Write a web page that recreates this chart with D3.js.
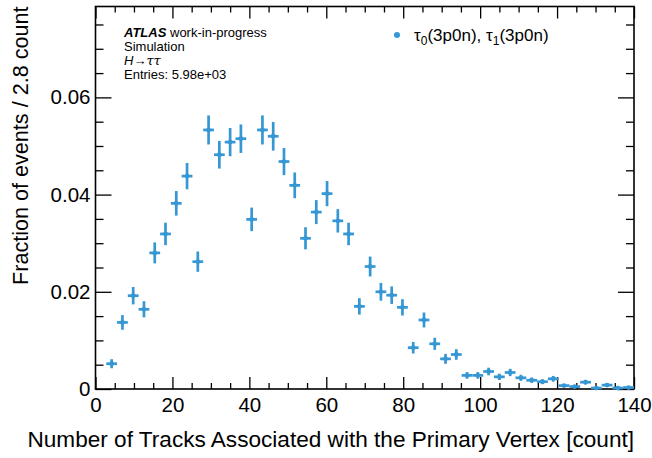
<!DOCTYPE html>
<html>
<head>
<meta charset="utf-8">
<script src="https://cdn.jsdelivr.net/npm/d3@7/dist/d3.min.js"></script>
<style>
  body { margin: 0; background: #fff; }
  svg { display: block; font-family: "Liberation Sans", Arial, sans-serif; }
</style>
</head>
<body>
<div id="chart"></div>
<script>
// bin centres (bin width 2.8 tracks)
const binCenters = [1.4, 4.2, 7.0, 9.8, 12.6, 15.4, 18.2, 21.0, 23.8, 26.6,
  29.4, 32.2, 35.0, 37.8, 40.6, 43.4, 46.2, 49.0, 51.8, 54.6,
  57.4, 60.2, 63.0, 65.8, 68.6, 71.4, 74.2, 77.0, 79.8, 82.6,
  85.4, 88.2, 91.0, 93.8, 96.6, 99.4, 102.2, 105.0, 107.8, 110.6,
  113.4, 116.2, 119.0, 121.8, 124.6, 127.4, 130.2, 133.0, 135.8, 138.6];
const binHalfWidth = 1.4;

// fraction of events per bin
const fractions = [null, 0.0052, 0.0137, 0.0192, 0.0164, 0.0280, 0.0319, 0.0382, 0.0438, 0.0262,
  0.0533, 0.0482, 0.0508, 0.0515, 0.0349, 0.0533, 0.0520, 0.0468, 0.0419, 0.0310,
  0.0364, 0.0402, 0.0346, 0.0319, 0.0170, 0.0252, 0.0200, 0.0193, 0.0168, 0.0085,
  0.0142, 0.0093, 0.0062, 0.0071, 0.0028, 0.0028, 0.0036, 0.0025, 0.0034, 0.0023,
  0.0018, 0.0015, 0.0021, 0.0007, 0.0005, 0.0014, 0.0002, 0.0008, 0.0002, 0.0003];

// vertical error per bin
const errors = [0, 0.00093, 0.00151, 0.00179, 0.00166, 0.00216, 0.00231, 0.00253, 0.00271, 0.00209,
  0.00299, 0.00284, 0.00291, 0.00293, 0.00242, 0.00299, 0.00295, 0.00280, 0.00265, 0.00228,
  0.00247, 0.00259, 0.00241, 0.00231, 0.00169, 0.00205, 0.00183, 0.00180, 0.00168, 0.00119,
  0.00154, 0.00125, 0.00102, 0.00109, 0.00068, 0.00068, 0.00078, 0.00065, 0.00075, 0.00062,
  0.00055, 0.00050, 0.00059, 0.00034, 0.00029, 0.00048, 0.00017, 0.00037, 0.00017, 0.00022];

const xTicks = [0, 20, 40, 60, 80, 100, 120, 140];
const xTickLabels = ["0", "20", "40", "60", "80", "100", "120", "140"];
const yTicks = [0, 0.02, 0.04, 0.06];
const yTickLabels = ["0", "0.02", "0.04", "0.06"];

const color = "#3597d3";
const W = 652, H = 458;
const plotL = 95.5, plotR = 634, plotT = 6.5, plotB = 389;

const svg = d3.select("#chart").append("svg")
  .attr("width", W).attr("height", H);

const x = d3.scaleLinear().domain([0, 140]).range([plotL, plotR]);
const y = d3.scaleLinear().domain([0, 0.0787]).range([plotB, plotT]);

const xMinor = d3.range(0, 141, 5).filter(v => v % 20 !== 0);
const yMinor = d3.range(0.005, 0.078, 0.005).filter(v => Math.abs(v / 0.02 - Math.round(v / 0.02)) > 1e-6);

// helper to strip axis domain and style ticks
function styleAxis(g) {
  g.select(".domain").remove();
  g.selectAll(".tick line").attr("stroke", "#000").attr("stroke-width", 1.3);
  g.selectAll("text").attr("fill", "#000").attr("font-size", "20.5px")
    .attr("font-family", "Liberation Sans, Arial, sans-serif");
}

// bottom axis (major with labels, minor)
svg.append("g").attr("transform", `translate(0,${plotB})`)
  .call(d3.axisBottom(x).tickValues(xTicks).tickFormat((d, i) => xTickLabels[i]).tickSize(-12).tickPadding(8))
  .call(styleAxis);
svg.append("g").attr("transform", `translate(0,${plotB})`)
  .call(d3.axisBottom(x).tickValues(xMinor).tickFormat("").tickSize(-6))
  .call(styleAxis);
// top axis
svg.append("g").attr("transform", `translate(0,${plotT})`)
  .call(d3.axisTop(x).tickValues(xTicks).tickFormat("").tickSize(-12))
  .call(styleAxis);
svg.append("g").attr("transform", `translate(0,${plotT})`)
  .call(d3.axisTop(x).tickValues(xMinor).tickFormat("").tickSize(-6))
  .call(styleAxis);
// left axis
svg.append("g").attr("transform", `translate(${plotL},0)`)
  .call(d3.axisLeft(y).tickValues(yTicks).tickFormat((d, i) => yTickLabels[i]).tickSize(-16).tickPadding(5))
  .call(styleAxis);
svg.append("g").attr("transform", `translate(${plotL},0)`)
  .call(d3.axisLeft(y).tickValues(yMinor).tickFormat("").tickSize(-8))
  .call(styleAxis);
// right axis
svg.append("g").attr("transform", `translate(${plotR},0)`)
  .call(d3.axisRight(y).tickValues(yTicks).tickFormat("").tickSize(-16))
  .call(styleAxis);
svg.append("g").attr("transform", `translate(${plotR},0)`)
  .call(d3.axisRight(y).tickValues(yMinor).tickFormat("").tickSize(-8))
  .call(styleAxis);

// frame
svg.append("rect")
  .attr("x", plotL).attr("y", plotT)
  .attr("width", plotR - plotL).attr("height", plotB - plotT)
  .attr("fill", "none").attr("stroke", "#000").attr("stroke-width", 1.6);

// data points with error bars
const pts = binCenters.map((c, i) => ({ c: c, v: fractions[i], e: errors[i] }))
  .filter(d => d.v !== null);

const pg = svg.append("g");
pg.selectAll(".ex").data(pts).enter().append("line")
  .attr("x1", d => x(d.c - binHalfWidth)).attr("x2", d => x(d.c + binHalfWidth))
  .attr("y1", d => y(d.v)).attr("y2", d => y(d.v))
  .attr("stroke", color).attr("stroke-width", 2.7);
pg.selectAll(".ey").data(pts).enter().append("line")
  .attr("x1", d => x(d.c)).attr("x2", d => x(d.c))
  .attr("y1", d => y(d.v - d.e)).attr("y2", d => y(d.v + d.e))
  .attr("stroke", color).attr("stroke-width", 2.7);
pg.selectAll("circle").data(pts).enter().append("circle")
  .attr("cx", d => x(d.c)).attr("cy", d => y(d.v)).attr("r", 2.4)
  .attr("fill", color);

// ATLAS label block
const info = svg.append("g").attr("font-size", "13px").attr("fill", "#000");
const t1 = info.append("text").attr("x", 124).attr("y", 37);
t1.append("tspan").attr("font-weight", "bold").attr("font-style", "italic").text("ATLAS");
t1.append("tspan").text(" work-in-progress");
info.append("text").attr("x", 124).attr("y", 51).text("Simulation");
const t3 = info.append("text").attr("x", 124).attr("y", 65);
t3.append("tspan").attr("font-style", "italic").text("H");
t3.append("tspan").text("\u2192");
t3.append("tspan").attr("font-style", "italic").attr("font-family", "DejaVu Serif, serif").text("\u03c4\u03c4");
info.append("text").attr("x", 124).attr("y", 79).text("Entries: 5.98e+03");

// legend
svg.append("circle").attr("cx", 397).attr("cy", 35).attr("r", 3).attr("fill", color);
const lg = svg.append("text").attr("x", 414).attr("y", 41).attr("font-size", "17px").attr("fill", "#000");
lg.append("tspan").text("\u03c4");
lg.append("tspan").attr("font-size", "12px").attr("dy", 4).text("0");
lg.append("tspan").attr("dy", -4).text("(3p0n), \u03c4");
lg.append("tspan").attr("font-size", "12px").attr("dy", 4).text("1");
lg.append("tspan").attr("dy", -4).text("(3p0n)");

// axis titles
svg.append("text")
  .attr("x", plotR).attr("y", 447)
  .attr("text-anchor", "end").attr("font-size", "22.6px").attr("fill", "#000")
  .text("Number of Tracks Associated with the Primary Vertex [count]");
svg.append("text")
  .attr("transform", `translate(28,${plotT}) rotate(-90)`)
  .attr("text-anchor", "end").attr("font-size", "21.6px").attr("fill", "#000")
  .text("Fraction of events / 2.8 count");
</script>
</body>
</html>
